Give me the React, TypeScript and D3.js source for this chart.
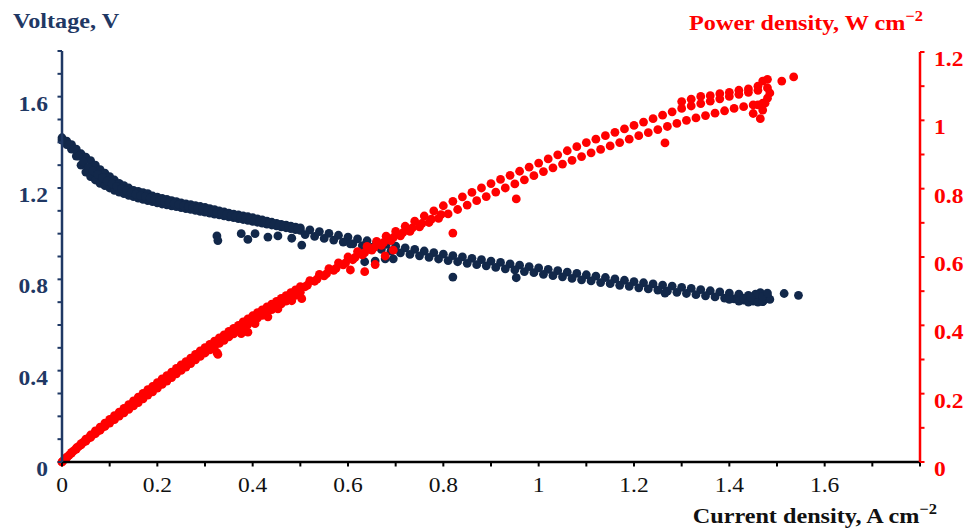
import React from 'react';
import * as d3 from 'd3';

// ---- Data (current density A/cm2, voltage V, power density W/cm2) ----
const jDense = [0,0.01,0.02,0.03,0.04,0.05,0.06,0.07,0.08,0.09,0.10,0.11,0.12,0.13,0.14,0.15,0.16,0.17,0.18,0.19,0.20,0.21,0.22,0.23,0.24,0.25,0.26,0.27,0.28,0.29,0.30,0.31,0.32,0.33,0.34,0.35,0.36,0.37,0.38,0.39,0.40,0.41,0.42,0.43,0.44,0.45,0.46,0.47,0.48,0.49,0.50];
const vHiDense = [1.42,1.405,1.39,1.37,1.35,1.335,1.32,1.30,1.28,1.265,1.25,1.235,1.22,1.21,1.20,1.19,1.185,1.18,1.175,1.165,1.16,1.155,1.15,1.145,1.14,1.135,1.13,1.127,1.123,1.119,1.115,1.11,1.105,1.10,1.095,1.09,1.086,1.082,1.078,1.074,1.07,1.065,1.06,1.055,1.05,1.045,1.041,1.037,1.033,1.029,1.025];
const vLoDense = [1.41,1.39,1.37,1.34,1.30,1.27,1.25,1.235,1.22,1.21,1.20,1.19,1.182,1.175,1.168,1.162,1.156,1.15,1.145,1.14,1.135,1.13,1.126,1.122,1.118,1.114,1.11,1.106,1.102,1.098,1.094,1.09,1.086,1.082,1.078,1.074,1.07,1.066,1.062,1.058,1.054,1.05,1.046,1.042,1.038,1.034,1.03,1.026,1.022,1.018,1.014];
const pHiDense = [0,0.014,0.028,0.041,0.054,0.067,0.079,0.091,0.102,0.114,0.125,0.136,0.146,0.157,0.168,0.179,0.19,0.201,0.212,0.221,0.232,0.243,0.253,0.263,0.274,0.284,0.294,0.304,0.315,0.325,0.335,0.344,0.354,0.363,0.372,0.382,0.391,0.40,0.41,0.419,0.428,0.437,0.445,0.454,0.462,0.47,0.479,0.487,0.496,0.504,0.513];
const pLoDense = [0,0.013,0.026,0.038,0.05,0.061,0.072,0.083,0.093,0.104,0.114,0.124,0.134,0.144,0.154,0.164,0.174,0.185,0.196,0.205,0.216,0.227,0.237,0.247,0.258,0.268,0.278,0.288,0.299,0.309,0.319,0.328,0.338,0.347,0.356,0.366,0.375,0.384,0.394,0.403,0.412,0.421,0.429,0.438,0.446,0.454,0.463,0.471,0.48,0.488,0.497];

const jDenseMid = [0.005,0.015,0.025,0.035,0.045,0.055,0.065,0.075,0.085,0.095,0.105,0.115,0.125,0.135,0.145,0.155,0.165,0.175,0.185,0.195,0.205,0.215,0.225,0.235,0.245,0.255,0.265,0.275,0.285,0.295,0.305,0.315,0.325,0.335,0.345,0.355,0.365,0.375,0.385,0.395,0.405,0.415,0.425,0.435,0.445,0.455,0.465,0.475,0.485,0.495];
const vMidDense = [1.405,1.39,1.37,1.34,1.315,1.29,1.275,1.26,1.245,1.23,1.218,1.207,1.197,1.188,1.18,1.173,1.167,1.162,1.156,1.15,1.145,1.14,1.136,1.131,1.127,1.122,1.118,1.115,1.111,1.107,1.102,1.098,1.093,1.089,1.084,1.08,1.076,1.072,1.068,1.064,1.06,1.055,1.05,1.046,1.042,1.038,1.034,1.03,1.026,1.022];
const pMidDense = [0.007,0.02,0.033,0.046,0.058,0.069,0.08,0.091,0.102,0.113,0.124,0.134,0.144,0.155,0.165,0.175,0.186,0.197,0.207,0.217,0.228,0.238,0.249,0.259,0.269,0.279,0.289,0.30,0.31,0.32,0.33,0.339,0.349,0.358,0.368,0.377,0.386,0.396,0.405,0.414,0.423,0.432,0.441,0.45,0.458,0.467,0.475,0.484,0.492,0.501];

const jSparseHi = [0.52,0.54,0.56,0.58,0.60,0.62,0.64,0.66,0.68,0.70,0.72,0.74,0.76,0.78,0.80,0.82,0.84,0.86,0.88,0.90,0.92,0.94,0.96,0.98,1.00,1.02,1.04,1.06,1.08,1.10,1.12,1.14,1.16,1.18,1.20,1.22,1.24,1.26,1.28,1.30,1.32,1.34,1.36,1.38,1.40,1.42,1.44,1.46,1.48];
const vHiSparse = [1.017,1.009,1.001,0.993,0.985,0.977,0.969,0.961,0.953,0.945,0.938,0.931,0.924,0.917,0.91,0.904,0.898,0.892,0.886,0.88,0.874,0.868,0.862,0.856,0.85,0.844,0.838,0.832,0.826,0.82,0.814,0.808,0.802,0.796,0.79,0.785,0.78,0.775,0.77,0.765,0.76,0.755,0.75,0.745,0.74,0.735,0.73,0.725,0.72];
const pHiSparse = [0.531,0.549,0.566,0.583,0.6,0.616,0.631,0.646,0.661,0.675,0.69,0.705,0.72,0.735,0.75,0.763,0.776,0.789,0.802,0.815,0.827,0.839,0.851,0.863,0.875,0.887,0.899,0.911,0.923,0.935,0.945,0.955,0.965,0.975,0.985,0.995,1.005,1.015,1.025,1.035,1.042,1.049,1.056,1.063,1.07,1.076,1.082,1.088,1.095];

const jSparseLo = [0.51,0.53,0.55,0.57,0.59,0.61,0.63,0.65,0.67,0.69,0.71,0.73,0.75,0.77,0.79,0.81,0.83,0.85,0.87,0.89,0.91,0.93,0.95,0.97,0.99,1.01,1.03,1.05,1.07,1.09,1.11,1.13,1.15,1.17,1.19,1.21,1.23,1.25,1.27,1.29,1.31,1.33,1.35,1.37,1.39,1.41,1.43,1.45,1.47];
const vLoSparse = [0.996,0.988,0.979,0.972,0.963,0.955,0.948,0.94,0.931,0.924,0.916,0.909,0.903,0.896,0.889,0.882,0.877,0.87,0.864,0.859,0.852,0.846,0.841,0.834,0.829,0.822,0.816,0.811,0.804,0.798,0.793,0.786,0.781,0.774,0.769,0.763,0.758,0.753,0.748,0.743,0.738,0.733,0.728,0.723,0.718,0.714,0.709,0.705,0.702];
const pLoSparse = [0.513,0.529,0.545,0.561,0.577,0.592,0.606,0.62,0.634,0.648,0.662,0.675,0.688,0.701,0.713,0.726,0.739,0.752,0.765,0.777,0.79,0.802,0.814,0.826,0.838,0.85,0.861,0.872,0.883,0.894,0.905,0.915,0.925,0.935,0.945,0.955,0.964,0.973,0.982,0.991,1.0,1.007,1.014,1.021,1.028,1.035,1.04,1.045,1.05];

const jRedExtra = [0.515,0.535,0.555,0.575,0.595,0.615,0.635,0.655,0.675,0.695,0.715,0.735,0.755,0.775,0.795];
const pRedExtra = [0.518,0.535,0.551,0.567,0.583,0.599,0.613,0.628,0.643,0.657,0.671,0.685,0.698,0.711,0.724];

const jOut = [0.325,0.327,0.376,0.39,0.405,0.432,0.453,0.482,0.503,0.605,0.635,0.657,0.678,0.695,0.82,0.953,1.265];
const vOut = [0.99,0.97,1.0,0.975,1.0,0.985,0.99,0.98,0.95,0.955,0.877,0.88,0.89,0.89,0.81,0.807,0.74];
const pOut = [0.32,0.315,0.376,0.38,0.405,0.425,0.448,0.472,0.478,0.562,0.557,0.578,0.603,0.62,0.67,0.77,0.934];

const jClusterV = [1.40,1.42,1.43,1.44,1.45,1.46,1.47,1.475,1.48,1.485,1.465,1.455,1.445,1.47,1.48,1.515,1.545];
const vCluster = [0.712,0.705,0.718,0.70,0.708,0.70,0.703,0.715,0.728,0.712,0.742,0.735,0.722,0.725,0.74,0.738,0.73];
const jClusterP = [1.30,1.32,1.34,1.36,1.38,1.40,1.42,1.44,1.46,1.47,1.48,1.475,1.47,1.465,1.48,1.485,1.46,1.45,1.51,1.535];
const pCluster = [1.055,1.062,1.07,1.072,1.078,1.082,1.088,1.092,1.10,1.115,1.12,1.05,1.03,1.005,1.065,1.08,1.045,1.02,1.115,1.127];

const xTickLabels = ['0','0.2','0.4','0.6','0.8','1','1.2','1.4','1.6'];
const vTickLabels = ['0','0.4','0.8','1.2','1.6'];
const pTickLabels = ['0','0.2','0.4','0.6','0.8','1','1.2'];

const NAVY = '#12284a';
const AXIS_NAVY = '#1f3864';
const RED = '#ff0000';
const FONT = "'Liberation Serif','Times New Roman',serif";

const zip = (a: number[], b: number[]) => a.map((v, i) => [v, b[i]] as [number, number]);

const T = ({ x, y, sx = 1.12, children, ...rest }: any) => (
  <text transform={`translate(${x},${y}) scale(${sx},1)`} {...rest}>{children}</text>
);

export default function App() {
  const x = d3.scaleLinear().domain([0, 1.8]).range([62, 920]);
  const yV = d3.scaleLinear().domain([0, 1.8]).range([462, 51]);
  const yP = d3.scaleLinear().domain([0, 1.2]).range([462, 52]);

  const vPts = [
    ...zip(jDense, vHiDense), ...zip(jDense, vLoDense), ...zip(jDenseMid, vMidDense),
    ...zip(jSparseHi, vHiSparse), ...zip(jSparseLo, vLoSparse),
    ...zip(jOut, vOut), ...zip(jClusterV, vCluster),
  ];
  const pPts = [
    ...zip(jDense, pHiDense), ...zip(jDense, pLoDense), ...zip(jDenseMid, pMidDense),
    ...zip(jSparseHi, pHiSparse), ...zip(jSparseLo, pLoSparse), ...zip(jRedExtra, pRedExtra),
    ...zip(jOut, pOut), ...zip(jClusterP, pCluster),
  ];
  const r = 4.4;

  return (
    <svg width={975} height={530} style={{ position: 'absolute', left: 0, top: 0, background: '#fff' }} fontFamily={FONT}>
      <g fill={NAVY}>
        {vPts.map((d, i) => <circle key={i} cx={x(d[0])} cy={yV(d[1])} r={r} />)}
      </g>
      <g fill={RED}>
        {pPts.map((d, i) => <circle key={i} cx={x(d[0])} cy={yP(d[1])} r={r} />)}
      </g>

      {/* x axis */}
      <line x1={x(0)} x2={x(1.8)} y1={462} y2={462} stroke="#000" strokeWidth={2.5} />
      {x.ticks(18).map((t, i) => (
        <line key={i} x1={x(t)} x2={x(t)} y1={462} y2={466.5} stroke="#000" strokeWidth={2} />
      ))}
      {xTickLabels.map((l) => (
        <T key={l} x={x(+l)} y={492} fontSize={21} textAnchor="middle" fill="#111">{l}</T>
      ))}

      {/* left axis */}
      <line x1={62} x2={62} y1={yV(1.8)} y2={462} stroke={AXIS_NAVY} strokeWidth={2.5} />
      {yV.ticks(18).map((t, i) => (
        <line key={i} x1={57.5} x2={62} y1={yV(t)} y2={yV(t)} stroke={AXIS_NAVY} strokeWidth={2} />
      ))}
      {vTickLabels.map((l) => (
        <T key={l} x={48} y={yV(+l) + 14} fontSize={21} fontWeight="bold" textAnchor="end" fill={AXIS_NAVY}>{l}</T>
      ))}

      {/* right axis */}
      <line x1={920} x2={920} y1={yP(1.2)} y2={462} stroke={RED} strokeWidth={2.5} />
      {yP.ticks(12).map((t, i) => (
        <line key={i} x1={920} x2={924.5} y1={yP(t)} y2={yP(t)} stroke={RED} strokeWidth={2} />
      ))}
      {pTickLabels.map((l) => (
        <T key={l} x={934} y={yP(+l) + 14} fontSize={21} fontWeight="bold" textAnchor="start" fill={RED}>{l}</T>
      ))}

      {/* titles */}
      <T x={13} y={28} sx={1.1} fontSize={22} fontWeight="bold" fill={AXIS_NAVY}>Voltage, V</T>
      <T x={923} y={30} sx={1.1} fontSize={22} fontWeight="bold" fill={RED} textAnchor="end">
        Power density, W cm<tspan fontSize={15} dy={-9}>−2</tspan>
      </T>
      <T x={937} y={523} sx={1.1} fontSize={22} fontWeight="bold" fill="#111" textAnchor="end">
        Current density, A cm<tspan fontSize={15} dy={-9}>−2</tspan>
      </T>
    </svg>
  );
}
